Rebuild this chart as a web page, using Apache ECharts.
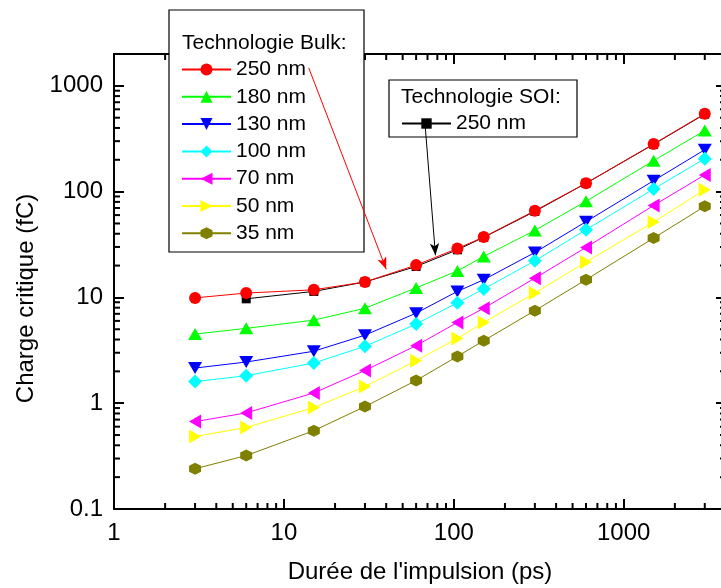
<!DOCTYPE html>
<html>
<head>
<meta charset="utf-8">
<script src="https://cdn.jsdelivr.net/npm/echarts@6/dist/echarts.min.js"></script>
<style>
  html, body { margin: 0; padding: 0; background: #fff; }
  #chart { width: 721px; height: 588px; }
</style>
</head>
<body>
<div id="chart"></div>
<script>
// durée de l'impulsion (ps)
const pulseWidths = [3, 6, 15, 30, 60, 105, 150, 300, 600, 1500, 3000];
// charge critique (fC), technologie bulk
const bulk250 = [9.9, 11.0, 11.8, 14.0, 20.2, 29.0, 37.2, 66, 120, 282, 545];
const bulk180 = [4.5, 5.1, 6.1, 7.9, 12.3, 17.8, 24.4, 43, 81, 196, 378];
const bulk130 = [2.15, 2.45, 3.1, 4.4, 7.1, 11.4, 14.7, 26.6, 52, 127, 249];
const bulk100 = [1.6, 1.82, 2.4, 3.45, 5.6, 8.9, 12.0, 22.2, 43.6, 106, 205];
const bulk70 = [0.67, 0.81, 1.25, 2.04, 3.5, 5.8, 7.9, 15.2, 29.7, 74, 144];
const bulk50 = [0.485, 0.59, 0.91, 1.44, 2.52, 4.1, 5.8, 11.0, 21.6, 51.6, 104];
const bulk35 = [0.24, 0.32, 0.55, 0.93, 1.64, 2.77, 3.9, 7.5, 14.7, 36.4, 72.6];
// technologie SOI
const soiPulseWidths = [6, 15, 30, 60, 105, 150, 300, 600, 1500, 3000];
const soi250 = [9.7, 11.4, 14.0, 19.6, 28.2, 37, 65, 120, 280, 540];

const xRange = [1, 4000];
const yRange = [0.1, 2000];
const xMinorTicks = [2, 3, 4, 5, 6, 7, 8, 9, 20, 30, 40, 50, 60, 70, 80, 90,
  200, 300, 400, 500, 600, 700, 800, 900, 2000, 3000];
const yMinorTicks = [0.2, 0.3, 0.4, 0.5, 0.6, 0.7, 0.8, 0.9, 2, 3, 4, 5, 6, 7, 8, 9,
  20, 30, 40, 50, 60, 70, 80, 90, 200, 300, 400, 500, 600, 700, 800, 900];

const FONT = 'Liberation Sans, Arial, sans-serif';
const GRID = { left: 114, top: 54, width: 612, height: 455, outerBoundsMode: 'none' };

const bulkSeries = [
  { name: '250 nm', values: bulk250, color: '#ff0000', symbol: 'circle', size: 12 },
  { name: '180 nm', values: bulk180, color: '#00ff00', symbol: 'triangle', size: [14, 12] },
  { name: '130 nm', values: bulk130, color: '#0000ff', symbol: 'path://M0,0 L10,0 L5,8.66 Z', size: [14, 12] },
  { name: '100 nm', values: bulk100, color: '#00ffff', symbol: 'diamond', size: 14 },
  { name: '70 nm', values: bulk70, color: '#ff00ff', symbol: 'path://M0,5 L8.66,0 L8.66,10 Z', size: [12, 14] },
  { name: '50 nm', values: bulk50, color: '#ffff00', symbol: 'path://M8.66,5 L0,0 L0,10 Z', size: [12, 14] },
  { name: '35 nm', values: bulk35, color: '#808000', symbol: 'path://M5,0 L9.33,2.5 L9.33,7.5 L5,10 L0.67,7.5 L0.67,2.5 Z', size: 12 }
];

function pairs(xs, ys) {
  return xs.map((x, i) => [x, ys[i]]);
}

const chart = echarts.init(document.getElementById('chart'));

const axisCommon = {
  type: 'log',
  logBase: 10,
  axisLine: { show: true, lineStyle: { color: '#000', width: 2 } },
  axisTick: { show: true, inside: true, length: 10, lineStyle: { color: '#000', width: 2 } },
  splitLine: { show: false }
};

const series = [];
series.push({
  name: 'SOI 250 nm',
  type: 'line',
  data: pairs(soiPulseWidths, soi250),
  symbol: 'rect',
  symbolSize: 9,
  itemStyle: { color: '#000' },
  lineStyle: { color: '#000', width: 1 },
  z: 2,
  markLine: {
    silent: true,
    symbol: ['none', 'arrow'],
    symbolSize: [7, 12],
    label: { show: false },
    lineStyle: { color: '#000', width: 1, type: 'solid' },
    data: [[{ coord: [68, 400] }, { coord: [78, 25] }]]
  }
});
bulkSeries.forEach((s, i) => {
  const item = {
    name: s.name,
    type: 'line',
    data: pairs(pulseWidths, s.values),
    symbol: s.symbol,
    symbolSize: s.size,
    itemStyle: { color: s.color },
    lineStyle: { color: s.color, width: 1 },
    z: 2
  };
  if (i === 0) {
    item.markLine = {
      silent: true,
      symbol: ['none', 'arrow'],
      symbolSize: [7, 12],
      label: { show: false },
      lineStyle: { color: '#ff0000', width: 1, type: 'solid' },
      data: [[{ coord: [14, 1480] }, { coord: [40, 18.5] }]]
    };
  }
  series.push(item);
});

const boxes = [
  { type: 'rect', z: 4, shape: { x: 169, y: 10, width: 195, height: 242 },
    style: { fill: '#fff', stroke: '#000', lineWidth: 1.2 } },
  { type: 'text', z: 5, x: 182, y: 43,
    style: { text: 'Technologie Bulk:', fontSize: 21, fontFamily: FONT, fill: '#000', verticalAlign: 'middle' } },
  { type: 'rect', z: 4, shape: { x: 389, y: 80, width: 188, height: 57 },
    style: { fill: '#fff', stroke: '#000', lineWidth: 1.2 } },
  { type: 'text', z: 5, x: 401, y: 97,
    style: { text: 'Technologie SOI:', fontSize: 21, fontFamily: FONT, fill: '#000', verticalAlign: 'middle' } }
];

chart.setOption({
  animation: false,
  backgroundColor: '#fff',
  textStyle: { fontFamily: FONT },
  grid: GRID,
  xAxis: [
    Object.assign({}, axisCommon, {
      min: xRange[0], max: xRange[1],
      position: 'bottom',
      name: "Durée de l'impulsion (ps)",
      nameLocation: 'middle',
      nameGap: 51,
      nameTextStyle: { fontSize: 24, color: '#000', fontFamily: FONT },
      axisLabel: { fontSize: 24, color: '#000', margin: 12, fontFamily: FONT, showMaxLabel: false,
        formatter: v => String(v) }
    }),
    Object.assign({}, axisCommon, {
      min: xRange[0], max: xRange[1],
      position: 'top',
      axisLabel: { show: false }
    })
  ],
  yAxis: [
    Object.assign({}, axisCommon, {
      min: yRange[0], max: yRange[1],
      position: 'left',
      name: 'Charge critique (fC)',
      nameLocation: 'middle',
      nameGap: 76,
      nameTextStyle: { fontSize: 24, color: '#000', fontFamily: FONT, padding: [0, 34, 0, 0] },
      axisLabel: { fontSize: 24, color: '#000', margin: 11, fontFamily: FONT, showMaxLabel: false,
        formatter: v => String(v) }
    }),
    Object.assign({}, axisCommon, {
      min: yRange[0], max: yRange[1],
      position: 'right',
      axisLabel: { show: false }
    })
  ],
  legend: [
    {
      data: bulkSeries.map(s => s.name),
      orient: 'vertical',
      left: 181,
      top: 59,
      padding: 0,
      itemWidth: 49,
      itemHeight: 15,
      itemGap: 6.3,
      selectedMode: false,
      textStyle: { fontSize: 21, lineHeight: 20, color: '#000', fontFamily: FONT },
      z: 6
    },
    {
      data: ['SOI 250 nm'],
      orient: 'vertical',
      left: 401,
      top: 113,
      padding: 0,
      itemWidth: 49,
      itemHeight: 13,
      selectedMode: false,
      formatter: () => '250 nm',
      textStyle: { fontSize: 21, lineHeight: 20, color: '#000', fontFamily: FONT },
      z: 6
    }
  ],
  graphic: boxes,
  series: series
});

// petites graduations de l'axe log (2..9 de chaque décade), côté intérieur des 4 bords
const minorLen = 6;
const gBottom = GRID.top + GRID.height;
const gRight = GRID.left + GRID.width;
const ticks = [];
function tick(x1, y1, x2, y2) {
  ticks.push({ type: 'line', z: 3, silent: true, shape: { x1: x1, y1: y1, x2: x2, y2: y2 },
    style: { stroke: '#000', lineWidth: 2 } });
}
xMinorTicks.forEach(v => {
  const px = chart.convertToPixel({ xAxisIndex: 0 }, v);
  tick(px, gBottom, px, gBottom - minorLen);
  tick(px, GRID.top, px, GRID.top + minorLen);
});
yMinorTicks.forEach(v => {
  const py = chart.convertToPixel({ yAxisIndex: 0 }, v);
  tick(GRID.left, py, GRID.left + minorLen, py);
  tick(gRight, py, gRight - minorLen, py);
});
chart.setOption({ graphic: boxes.concat(ticks) });
</script>
</body>
</html>
